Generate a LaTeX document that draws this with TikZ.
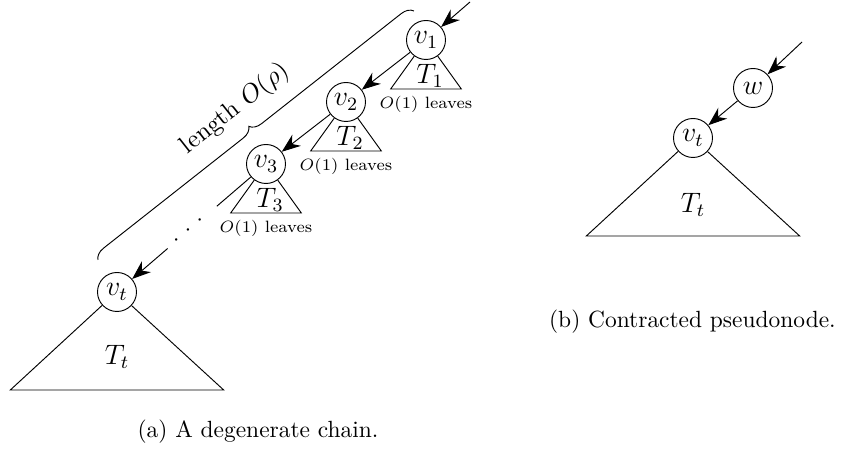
\documentclass[tikz,border=0pt]{standalone}
\usetikzlibrary{arrows.meta,calc,decorations.pathreplacing}

\begin{document}
\begin{tikzpicture}[
    vtx/.style={draw, circle, minimum size=0.585cm, inner sep=1pt, font=\large},
    edge/.style={-{Stealth[length=8pt,width=6pt]}},
    leaves/.style={below=2pt, inner sep=1pt, font=\scriptsize}
  ]
    \useasboundingbox (0,0) rectangle (12.78,6.795);

    % (a) the chain
    \node[vtx] (v1) at (6.39,6.195) {$v_1$};
    \node[vtx] (v2) at (5.19,5.265) {$v_2$};
    \node[vtx] (v3) at (3.99,4.335) {$v_3$};
    \node[vtx] (vt) at (1.755,2.415) {$v_t$};
    \coordinate (in1) at (7.05,6.765);

    \foreach \v/\i in {v1/1,v2/2,v3/3} {
        \draw (\v.234) -- ([shift={(-0.53,-0.735)}]\v.center) -- ([shift={(0.53,-0.735)}]\v.center) -- (\v.306);
        \node[font=\large] (T\i) at ([shift={(0.06,-0.54)}]\v.center) {$T_\i$};
        \node[leaves] (L\i) at ([yshift=-0.735cm]\v.center) {$O(1)$ leaves};
    }
    \draw (vt.222.5) -- ([shift={(-1.6,-1.47)}]vt.center) -- ([shift={(1.6,-1.47)}]vt.center) -- (vt.317.5);
    \node[font=\large] (Tt) at ([yshift=-0.975cm]vt.center) {$T_t$};

    \draw[edge] (in1) -- (v1);
    \draw[edge] (v1) -- (v2);
    \draw[edge] (v2) -- (v3);
    \coordinate (c1) at ($(v3)!0.33!(vt)$);
    \coordinate (c2) at ($(v3)!0.66!(vt)$);
    \node[rotate=40.7, inner sep=0pt] (dots) at ($(v3)!0.52!(vt)$) {$\cdot\,\cdot\,\cdot$};
    \draw (v3) -- (c1);
    \draw[edge] (c2) -- (vt);

    \coordinate (b0) at (1.47,2.895);
    \coordinate (b1) at (6.21,6.63);
    \draw[decorate, decoration={brace, amplitude=5pt}] (b0) -- (b1)
        node[midway, sloped, above=5.5pt, font=\fontsize{10.7}{13}\selectfont] (len) {length $O(\rho)$};

    \node (capa) at (3.87,0.315) {(a) A degenerate chain.};

    % (b) contracted
    \node[vtx] (w) at (11.295,5.475) {$w$};
    \node[vtx] (vb) at (10.395,4.725) {$v_t$};
    \coordinate (in2) at (12.03,6.165);
    \draw[edge] (in2) -- (w);
    \draw[edge] (w) -- (vb);
    \draw (vb.222.5) -- ([shift={(-1.6,-1.47)}]vb.center) -- ([shift={(1.6,-1.47)}]vb.center) -- (vb.317.5);
    \node[font=\large] (Tb) at ([yshift=-1.0cm]vb.center) {$T_t$};

    \node[anchor=east] (capb) at (12.66,1.965) {(b) Contracted pseudonode.};
\end{tikzpicture}
\end{document}
